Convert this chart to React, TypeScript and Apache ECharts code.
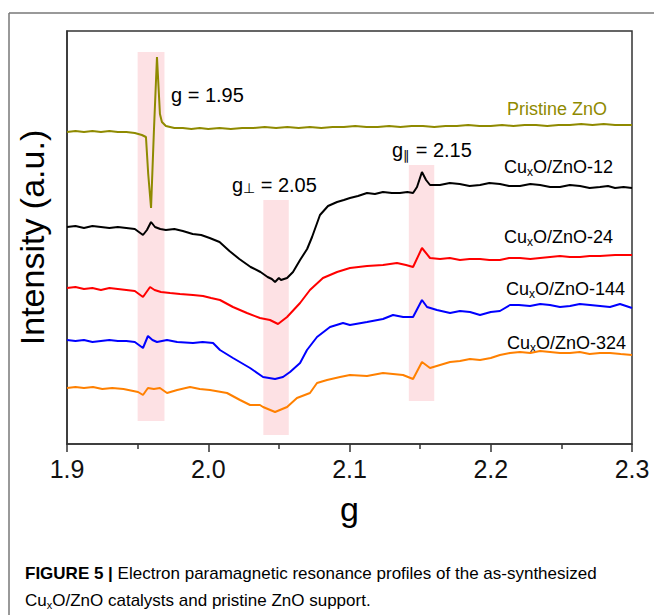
import React, { useEffect, useRef } from "react";
import * as echarts from "echarts";

// g-axis ticks
const xTicks = [1.9, 2.0, 2.1, 2.2, 2.3];

// EPR spectra: [g, intensity (a.u., offset-stacked)]
const pristineZnO: [number, number][] = [
  [1.9, 312], [1.906, 313], [1.912, 312], [1.918, 313], [1.924, 312], [1.93, 313], [1.936, 312], [1.942, 312],
  [1.948, 311], [1.953, 309], [1.9559, 307], [1.9575, 270], [1.9595, 236], [1.9615, 312], [1.9637, 387],
  [1.9658, 330], [1.9672, 322], [1.97, 318], [1.976, 316], [1.982, 316], [1.988, 315], [1.994, 316], [2.0, 315],
  [2.008, 316], [2.016, 315], [2.024, 316], [2.032, 316], [2.04, 317], [2.048, 316], [2.056, 317], [2.064, 316],
  [2.072, 317], [2.08, 316], [2.088, 317], [2.096, 317], [2.104, 318], [2.112, 317], [2.12, 317], [2.128, 318],
  [2.136, 317], [2.144, 318], [2.152, 318], [2.16, 317], [2.168, 318], [2.176, 318], [2.184, 319], [2.192, 318],
  [2.2, 318], [2.208, 319], [2.216, 318], [2.224, 319], [2.232, 319], [2.24, 318], [2.248, 319], [2.256, 319],
  [2.264, 320], [2.272, 319], [2.28, 320], [2.288, 319], [2.296, 319], [2.3, 319],
];

const cuZnO12: [number, number][] = [
  [1.9, 217], [1.906, 218], [1.912, 216], [1.918, 218], [1.924, 217], [1.93, 216], [1.936, 217], [1.942, 216],
  [1.948, 215], [1.9538, 209], [1.9566, 214], [1.9595, 222], [1.9623, 217], [1.966, 215], [1.97, 214],
  [1.976, 215], [1.982, 213], [1.989, 210], [1.995, 209], [2.001, 206], [2.008, 202], [2.015, 193], [2.022, 185],
  [2.03, 177], [2.037, 172], [2.042, 167], [2.045, 165], [2.0473, 162], [2.05, 166], [2.0515, 164], [2.0558, 166],
  [2.06, 172], [2.065, 184], [2.07, 195], [2.0735, 207], [2.0791, 229], [2.0848, 238], [2.0912, 242], [2.096, 244],
  [2.1003, 246], [2.106, 248], [2.1124, 251], [2.118, 250], [2.1237, 252], [2.13, 251], [2.1357, 251], [2.141, 252],
  [2.145, 251], [2.1478, 257], [2.1513, 272], [2.1542, 264], [2.157, 259], [2.164, 259], [2.171, 261], [2.178, 260],
  [2.185, 258], [2.1924, 259], [2.199, 261], [2.2065, 260], [2.213, 258], [2.2207, 258], [2.228, 260], [2.2349, 259],
  [2.242, 257], [2.249, 257], [2.256, 259], [2.2632, 258], [2.27, 256], [2.2773, 257], [2.283, 258], [2.288, 256],
  [2.294, 257], [2.3, 256],
];

const cuZnO24: [number, number][] = [
  [1.9, 156], [1.906, 157], [1.912, 155], [1.918, 156], [1.924, 154], [1.93, 156], [1.936, 155], [1.942, 154],
  [1.948, 153], [1.9538, 147], [1.9588, 157], [1.962, 154], [1.9665, 152], [1.973, 151], [1.98, 150], [1.9892, 149],
  [1.9963, 148], [2.002, 146], [2.0083, 144], [2.0175, 137], [2.0274, 131], [2.0366, 126], [2.0437, 124],
  [2.0494, 120], [2.0558, 127], [2.065, 141], [2.072, 154], [2.0812, 166], [2.0912, 172], [2.1003, 176],
  [2.1124, 178], [2.1237, 179], [2.1336, 181], [2.14, 179], [2.145, 177], [2.1513, 196], [2.157, 186],
  [2.1641, 185], [2.171, 186], [2.1782, 184], [2.185, 185], [2.1924, 185], [2.199, 184], [2.2065, 184],
  [2.213, 186], [2.2207, 186], [2.228, 185], [2.2349, 186], [2.242, 187], [2.249, 188], [2.256, 187],
  [2.2632, 187], [2.27, 188], [2.2773, 188], [2.288, 189], [2.3, 189],
];

const cuZnO144: [number, number][] = [
  [1.9, 104], [1.906, 103], [1.912, 104], [1.918, 102], [1.924, 103], [1.93, 104], [1.936, 103], [1.942, 103],
  [1.948, 102], [1.9538, 96], [1.9573, 108], [1.9605, 104], [1.9637, 102], [1.9708, 104], [1.978, 102],
  [1.9892, 101], [1.996, 102], [2.0034, 101], [2.0083, 94], [2.0175, 86], [2.0296, 76], [2.0388, 67],
  [2.0473, 65], [2.0529, 67], [2.0579, 72], [2.065, 81], [2.0699, 94], [2.077, 107], [2.0862, 117], [2.0954, 121],
  [2.1003, 119], [2.1124, 122], [2.1237, 125], [2.1308, 129], [2.138, 127], [2.145, 127], [2.1513, 144],
  [2.1549, 137], [2.1619, 134], [2.1712, 131], [2.1782, 133], [2.1853, 132], [2.1924, 129], [2.2, 132],
  [2.2065, 133], [2.2136, 139], [2.22, 139], [2.2278, 138], [2.235, 140], [2.2419, 139], [2.249, 137],
  [2.2561, 138], [2.263, 140], [2.2703, 139], [2.2774, 138], [2.2844, 137], [2.2915, 140], [2.3, 136],
];

const cuZnO324: [number, number][] = [
  [1.9, 56], [1.906, 57], [1.912, 56], [1.9184, 57], [1.925, 55], [1.932, 56], [1.94, 55], [1.9503, 52],
  [1.9538, 49], [1.9573, 56], [1.9615, 55], [1.9658, 56], [1.9708, 51], [1.978, 54], [1.9871, 57], [1.994, 55],
  [2.0012, 54], [2.0133, 51], [2.0225, 44], [2.0296, 39], [2.0366, 39], [2.0388, 37], [2.0473, 32], [2.0558, 37],
  [2.0628, 46], [2.072, 51], [2.077, 61], [2.0841, 64], [2.0933, 67], [2.1003, 69], [2.1124, 68], [2.1237, 71],
  [2.1379, 69], [2.145, 65], [2.1513, 82], [2.157, 76], [2.1641, 79], [2.1712, 82], [2.1782, 83], [2.1853, 85],
  [2.1924, 84], [2.2, 86], [2.2065, 89], [2.2136, 91], [2.2207, 92], [2.228, 91], [2.2349, 93], [2.242, 92],
  [2.249, 91], [2.2561, 91], [2.263, 92], [2.27, 90], [2.2773, 91], [2.2844, 91], [2.292, 90], [2.3, 89],
];

// highlighted g regions
const bandFrom = [1.95, 2.039, 2.142];
const bandTo = [1.969, 2.057, 2.16];
const bandBottom = [23, 9, 43];
const bandTop = [392, 244, 279];

const seriesNames = ["Pristine ZnO", "CuxO/ZnO-12", "CuxO/ZnO-24", "CuxO/ZnO-144", "CuxO/ZnO-324"];
const seriesColors = ["#8f8a00", "#000000", "#ff0000", "#0000ff", "#ff8000"];
const seriesData = [pristineZnO, cuZnO12, cuZnO24, cuZnO144, cuZnO324];

const FONT = '"Liberation Sans", Arial, Helvetica, sans-serif';

function subLabel(
  main: string, sub: string, rest: string, color: string, size: number, subSize: number,
  drop: number, subColor?: string
) {
  return {
    text: `{m|${main}}{s|${sub}}{m|${rest}}`,
    rich: {
      m: { fontSize: size, fontFamily: FONT, color, lineHeight: size + drop, verticalAlign: "middle" },
      s: { fontSize: subSize, fontFamily: FONT, color: subColor || color, lineHeight: size + drop, verticalAlign: "bottom" },
    },
  };
}

export default function App() {
  const ref = useRef<HTMLDivElement>(null);
  useEffect(() => {
    if (!ref.current) return;
    const chart = echarts.init(ref.current, null, { renderer: "svg" });
    const axisColor = "#333";

    const labelPos = [
      { x: 507, y: 109 },
      { x: 504, y: 167 },
      { x: 504, y: 237 },
      { x: 506, y: 289 },
      { x: 507, y: 343 },
    ];

    const graphic: any[] = [
      { type: "line", shape: { x1: 9, y1: 13, x2: 654, y2: 13 }, style: { stroke: "#777", lineWidth: 1.5 } },
      { type: "line", shape: { x1: 9, y1: 13, x2: 9, y2: 615 }, style: { stroke: "#777", lineWidth: 1.5 } },
      {
        type: "text", x: 171, y: 95,
        style: { text: "g = 1.95", fontSize: 20, fontFamily: FONT, fill: "#000", verticalAlign: "middle" },
      },
      {
        type: "text", x: 232, y: 185,
        style: { ...subLabel("g", "⊥", " = 2.05", "#000", 20, 14, 0), verticalAlign: "middle" },
      },
      {
        type: "text", x: 392, y: 150,
        style: { ...subLabel("g", "∥", " = 2.15", "#000", 20, 13, 4, "#999"), verticalAlign: "middle" },
      },
    ];
    seriesNames.forEach((n, i) => {
      const color = seriesColors[i];
      const style = i === 0
        ? { text: n, fontSize: 18, fontFamily: FONT, fill: color }
        : subLabel("Cu", "x", n.replace("Cux", ""), color, 18, 12, 4);
      graphic.push({ type: "text", x: labelPos[i].x, y: labelPos[i].y, style: { ...style, verticalAlign: "middle" } });
    });
    graphic.push(
      {
        type: "text", x: 25, y: 573,
        style: {
          text: "{b|FIGURE 5 |}{r| Electron paramagnetic resonance profiles of the as-synthesized}",
          rich: {
            b: { fontSize: 17, fontWeight: "bold", fontFamily: FONT, color: "#222", lineHeight: 24 },
            r: { fontSize: 17, fontFamily: FONT, color: "#222", lineHeight: 24 },
          },
          verticalAlign: "middle",
        },
      },
      {
        type: "text", x: 25, y: 600,
        style: {
          text: "{r|Cu}{s|x}{r|O/ZnO catalysts and pristine ZnO support.}",
          rich: {
            r: { fontSize: 17, fontFamily: FONT, color: "#222", lineHeight: 21, verticalAlign: "middle" },
            s: { fontSize: 11, fontFamily: FONT, color: "#222", lineHeight: 21, verticalAlign: "bottom" },
          },
          verticalAlign: "middle",
        },
      }
    );

    const bands = bandFrom.map((f, i) => [
      { xAxis: f, yAxis: bandBottom[i] },
      { xAxis: bandTo[i], yAxis: bandTop[i] },
    ]);

    chart.setOption({
      animation: false,
      backgroundColor: "#fff",
      grid: { left: 67, right: 22, top: 31, bottom: 171, show: true, borderColor: axisColor, borderWidth: 1.5 },
      xAxis: {
        type: "value",
        min: 1.9,
        max: 2.3,
        interval: 0.1,
        name: "g",
        nameLocation: "middle",
        nameGap: 48,
        nameTextStyle: { fontSize: 34, fontFamily: FONT, color: "#000" },
        axisLine: { show: true, onZero: false, lineStyle: { color: axisColor, width: 1.5 } },
        axisTick: { show: true, inside: false, length: 8, lineStyle: { color: axisColor, width: 1.5 } },
        minorTick: { show: true, splitNumber: 2, length: 5, lineStyle: { color: axisColor, width: 1.5 } },
        splitLine: { show: false },
        axisLabel: {
          fontSize: 25, fontFamily: FONT, color: "#111", margin: 12,
          formatter: (v: number) => {
            const t = xTicks.find((x) => Math.abs(x - v) < 1e-6);
            return t !== undefined ? t.toFixed(1) : "";
          },
        },
      },
      yAxis: {
        type: "value",
        min: 0,
        max: 413,
        name: "Intensity (a.u.)",
        nameLocation: "middle",
        nameGap: 18,
        nameTextStyle: { fontSize: 34, fontFamily: FONT, color: "#000" },
        axisLine: { show: true, lineStyle: { color: axisColor, width: 1.5 } },
        axisTick: { show: false },
        axisLabel: { show: false },
        splitLine: { show: false },
      },
      series: seriesData.map((d, i) => ({
        name: seriesNames[i],
        type: "line",
        data: d,
        showSymbol: false,
        symbol: "none",
        lineStyle: { color: seriesColors[i], width: 2 },
        itemStyle: { color: seriesColors[i] },
        z: 3,
        markArea: i === 0
          ? { silent: true, itemStyle: { color: "#fde1e4" }, label: { show: false }, data: bands }
          : undefined,
      })),
      graphic,
    });
    return () => chart.dispose();
  }, []);

  return (
    <div
      ref={ref}
      style={{ position: "fixed", left: 0, top: 0, width: 654, height: 615, background: "#fff" }}
    />
  );
}
